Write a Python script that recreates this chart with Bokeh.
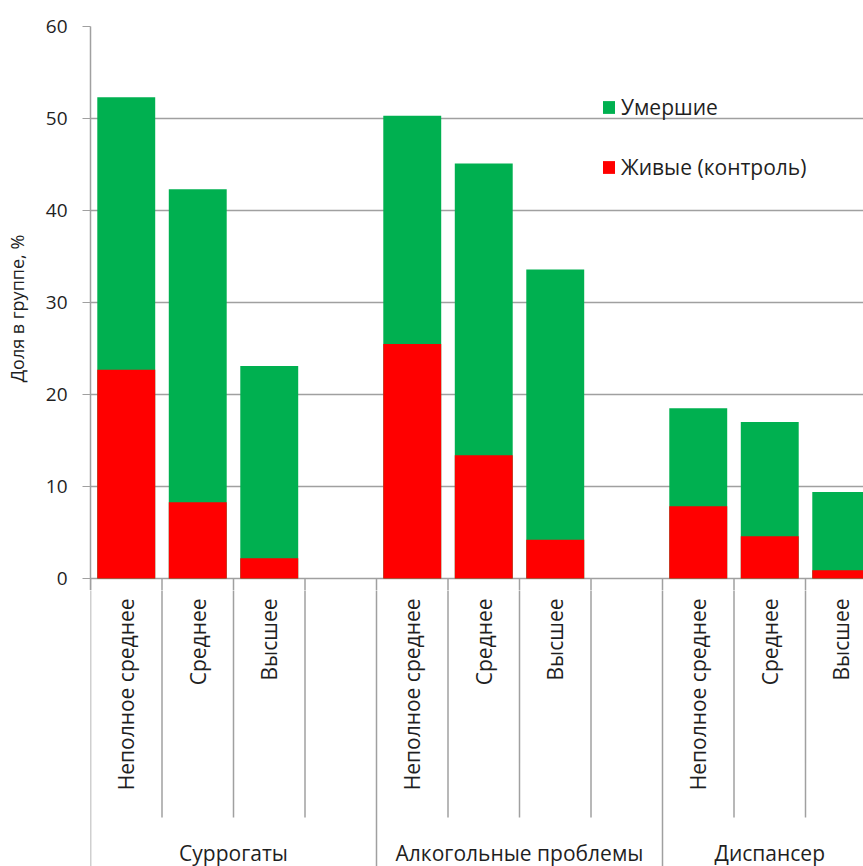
import math

from bokeh.core.properties import value
from bokeh.embed import file_html
from bokeh.layouts import column
from bokeh.models import ColumnDataSource, FixedTicker, Legend, LegendItem, Range1d
from bokeh.plotting import figure
from bokeh.resources import INLINE

# --- data ---------------------------------------------------------------
groups = ["Суррогаты", "Алкогольные проблемы", "Диспансер"]
levels = ["Неполное среднее", "Среднее", "Высшее"]
dead = [52.3, 42.3, 23.1, 50.3, 45.1, 33.6, 18.5, 17.0, 9.4]      # Умершие
alive = [22.7, 8.3, 2.2, 25.5, 13.4, 4.2, 7.85, 4.6, 0.9]        # Живые (контроль)
y_ticks = [0, 10, 20, 30, 40, 50, 60]

# --- layout -------------------------------------------------------------
W, H = 863, 866
LEFT, TOP = 90, 26
ZERO_PX = 578               # pixel row of the zero line
PAD_PX = 12                 # room below zero for the "0" tick label
PLOT_H = ZERO_PX + PAD_PX   # height of the bar panel
AXIS_H = H - PLOT_H         # height of the category axis panel below it
PX_PER_SLOT = 71.5          # one category slot on the x axis
PX_PER_UNIT = 9.2           # one percent on the y axis
SLOTS_PER_GROUP = 4         # three bars and an empty gap slot
FONT = "Open Sans"
TEXT = "#1f1f1f"
LINE = "#a0a0a0"


def px_below_zero(px):
    """Vertical offset in value units of a pixel row below the zero line."""
    return -(px - ZERO_PX) / PX_PER_UNIT


x_range = Range1d(0, (W - LEFT) / PX_PER_SLOT)

slots = [g * SLOTS_PER_GROUP + j for g in range(len(groups)) for j in range(len(levels))]
centers = [s + 0.5 for s in slots]
level_names = [levels[j] for g in range(len(groups)) for j in range(len(levels))]

src = ColumnDataSource(dict(x=centers, dead=dead, alive=alive, name=level_names))

# slot separators of the category axis: short inside a group, full between groups
n_slots = len(groups) * SLOTS_PER_GROUP
inner = [s for s in range(1, n_slots) if s % SLOTS_PER_GROUP != 0]
outer = [s for s in range(0, n_slots, SLOTS_PER_GROUP)]
inner_end = px_below_zero(817)
outer_end = px_below_zero(H)


def draw_separators(fig):
    fig.segment(x0=inner, x1=inner, y0=[0] * len(inner), y1=[inner_end] * len(inner),
                line_color=LINE, line_width=1.5)
    fig.segment(x0=outer, x1=outer, y0=[0] * len(outer), y1=[outer_end] * len(outer),
                line_color=LINE, line_width=1.5)


# --- bar panel ----------------------------------------------------------
p = figure(
    width=W, height=PLOT_H, output_backend="svg", toolbar_location=None,
    x_range=x_range, y_range=Range1d(px_below_zero(PLOT_H), y_ticks[-1]),
    x_axis_location=None,
    min_border_left=LEFT, min_border_top=TOP, min_border_right=0, min_border_bottom=0,
)
p.outline_line_color = None
p.background_fill_color = "white"
p.border_fill_color = "white"

p.yaxis.ticker = FixedTicker(ticks=y_ticks)
p.yaxis.minor_tick_line_color = None
p.yaxis.major_tick_in = 0
p.yaxis.major_tick_out = 8
p.yaxis.major_tick_line_color = LINE
p.yaxis.axis_line_color = LINE
p.yaxis.axis_line_width = 1.5
p.yaxis.major_label_standoff = 15
p.yaxis.major_label_text_font = FONT
p.yaxis.major_label_text_font_size = "19px"
p.yaxis.major_label_text_color = TEXT
p.yaxis.axis_label = "Доля в группе, %"
p.yaxis.axis_label_text_font = FONT
p.yaxis.axis_label_text_font_size = "18px"
p.yaxis.axis_label_text_font_style = "normal"
p.yaxis.axis_label_text_color = TEXT
p.yaxis.axis_label_standoff = 14
p.xgrid.visible = False
p.ygrid.ticker = FixedTicker(ticks=y_ticks)
p.ygrid.grid_line_color = LINE
p.ygrid.grid_line_width = 1.5

draw_separators(p)

# overlapping bars: dead share behind, living controls in front
bw = 0.81
g_dead = p.vbar(x="x", top="dead", bottom=0, width=bw, source=src,
                fill_color="#00b050", line_color=None)
g_alive = p.vbar(x="x", top="alive", bottom=0, width=bw, source=src,
                 fill_color="#ff0000", line_color=None)

legend = Legend(
    items=[LegendItem(label="Умершие", renderers=[g_dead]),
           LegendItem(label="Живые (контроль)", renderers=[g_alive])],
    location=(511, 397 + PAD_PX),
    glyph_width=15, glyph_height=16, label_height=16, label_standoff=5,
    spacing=32, padding=0, margin=0,
    border_line_color=None, background_fill_alpha=0,
    label_text_font=FONT, label_text_font_size="21px", label_text_color=TEXT,
)
p.add_layout(legend)

# --- two-level category axis -----------------------------------------------
q = figure(
    width=W, height=AXIS_H, output_backend="svg", toolbar_location=None,
    x_range=x_range, y_range=Range1d(px_below_zero(H), px_below_zero(PLOT_H)),
    x_axis_location=None, y_axis_location=None,
    min_border_left=LEFT, min_border_top=0, min_border_right=0, min_border_bottom=0,
)
q.outline_line_color = None
q.grid.visible = False
q.background_fill_color = "white"
q.border_fill_color = "white"

draw_separators(q)

q.text(x="x", y=px_below_zero(598), text="name", source=src, angle=math.pi / 2,
       text_align="right", text_baseline="middle",
       text_font=value(FONT), text_font_size="21px", text_color=TEXT)

group_centers = [g * SLOTS_PER_GROUP + SLOTS_PER_GROUP / 2 for g in range(len(groups))]
group_centers[-1] = (len(groups) - 1) * SLOTS_PER_GROUP + len(levels) / 2
q.text(x=group_centers, y=[px_below_zero(852)] * len(groups), text=groups,
       text_align="center", text_baseline="middle",
       text_font=value(FONT), text_font_size="21px", text_color=TEXT)

layout = column(p, q, spacing=0)
open("out.html", "w").write(file_html(layout, INLINE))
